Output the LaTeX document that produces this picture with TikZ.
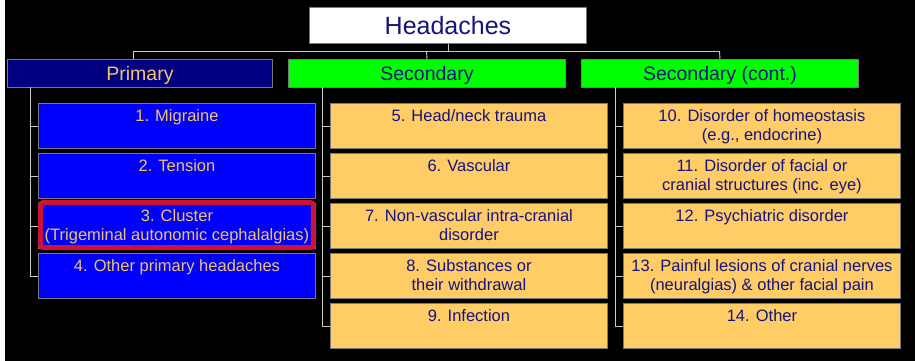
\documentclass[tikz,border=0pt]{standalone}
\usepackage{fontspec}
\setmainfont{Liberation Sans}
\definecolor{navytxt}{HTML}{14147F}
\definecolor{orgtxt}{HTML}{F2C36E}
\definecolor{bordgray}{HTML}{7A7A7A}
\definecolor{conngray}{HTML}{C8C8C8}
\definecolor{navyfill}{HTML}{000080}
\definecolor{bluefill}{HTML}{0000FF}
\definecolor{greenfill}{HTML}{00FF00}
\definecolor{peach}{HTML}{FFCC66}
\definecolor{hlred}{HTML}{CC1236}
\tikzset{
  bx/.style={draw=bordgray, line width=0.9pt, minimum width=277pt, minimum height=45pt, inner sep=0pt, anchor=north west},
  hdrbox/.style={draw=bordgray, line width=0.9pt, minimum height=28pt, inner sep=0pt, anchor=north west,
     font=\fontsize{19.5}{23}\selectfont, text height=14pt, text depth=0pt},
  bluebx/.style={bx, fill=bluefill},
  peachbx/.style={bx, fill=peach},
  ctxt/.style={anchor=north, inner sep=0pt, align=center, font=\fontsize{16.5}{19}\selectfont},
  conn/.style={draw=conngray, line width=0.9pt},
  hl/.style={draw=hlred, line width=5pt, rounded corners=3pt}
}
\begin{document}
\begin{tikzpicture}[x=1pt,y=-1pt]
\useasboundingbox (0,0) rectangle (915,361);
\fill[white] (0,0) rectangle (915,361);
\fill[black] (5,0) rectangle (915,361);

% title
\node[draw=bordgray, line width=0.9pt, fill=white, minimum width=277pt, minimum height=36pt, inner sep=0pt,
      anchor=north west, text=navytxt, font=\fontsize{25}{30}\selectfont, text height=18pt, text depth=0pt]
      (head) at (309,7) {Headaches};

% level 1
\node[hdrbox, fill=navyfill, text=orgtxt, minimum width=265pt] (prim) at (7,59) {Primary};
\node[hdrbox, fill=greenfill, text=navytxt, minimum width=277pt] (sec) at (288,59) {Secondary};
\node[hdrbox, fill=greenfill, text=navytxt, minimum width=277pt] (secc) at (581,59) {Secondary (cont.)};

% bus connectors
\coordinate (busL) at (133,51);
\coordinate (busM) at (426.5,51);
\coordinate (busR) at (719.5,51);
\draw[conn] (head.south) -- (head.south |- busL);
\draw[conn] (busL) -- (busR);
\draw[conn] (busL) -- (busL |- prim.north);
\draw[conn] (busM) -- (sec.north);
\draw[conn] (busR) -- (secc.north);

% column 1 children
\node[bluebx] (c1) at (38,103) {};
\node[ctxt, text=orgtxt] (c1t) at ([yshift=-5.2pt]c1.north) {\strut 1. Migraine};
\node[bluebx] (c2) at (38,153) {};
\node[ctxt, text=orgtxt] (c2t) at ([yshift=-5.2pt]c2.north) {\strut 2. Tension};
\node[bluebx] (c3) at (38,203) {};
\draw[hl] ([xshift=2.5pt,yshift=0.5pt]c3.north west) rectangle ([xshift=-2.5pt,yshift=1.2pt]c3.south east);
\node[ctxt, text=orgtxt] (c3t) at ([yshift=-5.2pt]c3.north) {\strut 3. Cluster\\(Trigeminal autonomic cephalalgias)};
\node[bluebx] (c4) at (38,253) {};
\node[ctxt, text=orgtxt] (c4t) at ([yshift=-5.2pt]c4.north) {\strut 4. Other primary headaches};

% column 2 children
\node[peachbx] (c5) at (330,103) {};
\node[ctxt, text=navytxt] (c5t) at ([yshift=-5.2pt]c5.north) {\strut 5. Head/neck trauma};
\node[peachbx] (c6) at (330,153) {};
\node[ctxt, text=navytxt] (c6t) at ([yshift=-5.2pt]c6.north) {\strut 6. Vascular};
\node[peachbx] (c7) at (330,203) {};
\node[ctxt, text=navytxt] (c7t) at ([yshift=-5.2pt]c7.north) {\strut 7. Non-vascular intra-cranial\\disorder};
\node[peachbx] (c8) at (330,253) {};
\node[ctxt, text=navytxt] (c8t) at ([yshift=-5.2pt]c8.north) {\strut 8. Substances or\\their withdrawal};
\node[peachbx] (c9) at (330,303) {};
\node[ctxt, text=navytxt] (c9t) at ([yshift=-5.2pt]c9.north) {\strut 9. Infection};

% column 3 children
\node[peachbx] (c10) at (623,103) {};
\node[ctxt, text=navytxt] (c10t) at ([yshift=-5.2pt]c10.north) {\strut 10. Disorder of homeostasis\\(e.g., endocrine)};
\node[peachbx] (c11) at (623,153) {};
\node[ctxt, text=navytxt] (c11t) at ([yshift=-5.2pt]c11.north) {\strut 11. Disorder of facial or\\cranial structures (inc. eye)};
\node[peachbx] (c12) at (623,203) {};
\node[ctxt, text=navytxt] (c12t) at ([yshift=-5.2pt]c12.north) {\strut 12. Psychiatric disorder};
\node[peachbx] (c13) at (623,253) {};
\node[ctxt, text=navytxt] (c13t) at ([yshift=-5.2pt]c13.north) {\strut 13. Painful lesions of cranial nerves\\(neuralgias) \& other facial pain};
\node[peachbx] (c14) at (623,303) {};
\node[ctxt, text=navytxt] (c14t) at ([yshift=-5.2pt]c14.north) {\strut 14. Other};

% tree connectors
\coordinate (pv) at (30,87);
\coordinate (sv) at (322,87);
\coordinate (tv) at (615,87);
\draw[conn] (pv) |- (c4.west);
\foreach \n in {c1,c2,c3} \draw[conn] (pv |- \n.west) -- (\n.west);
\draw[conn] (sv) |- (c9.west);
\foreach \n in {c5,c6,c7,c8} \draw[conn] (sv |- \n.west) -- (\n.west);
\draw[conn] (tv) |- (c14.west);
\foreach \n in {c10,c11,c12,c13} \draw[conn] (tv |- \n.west) -- (\n.west);
\end{tikzpicture}
\end{document}
